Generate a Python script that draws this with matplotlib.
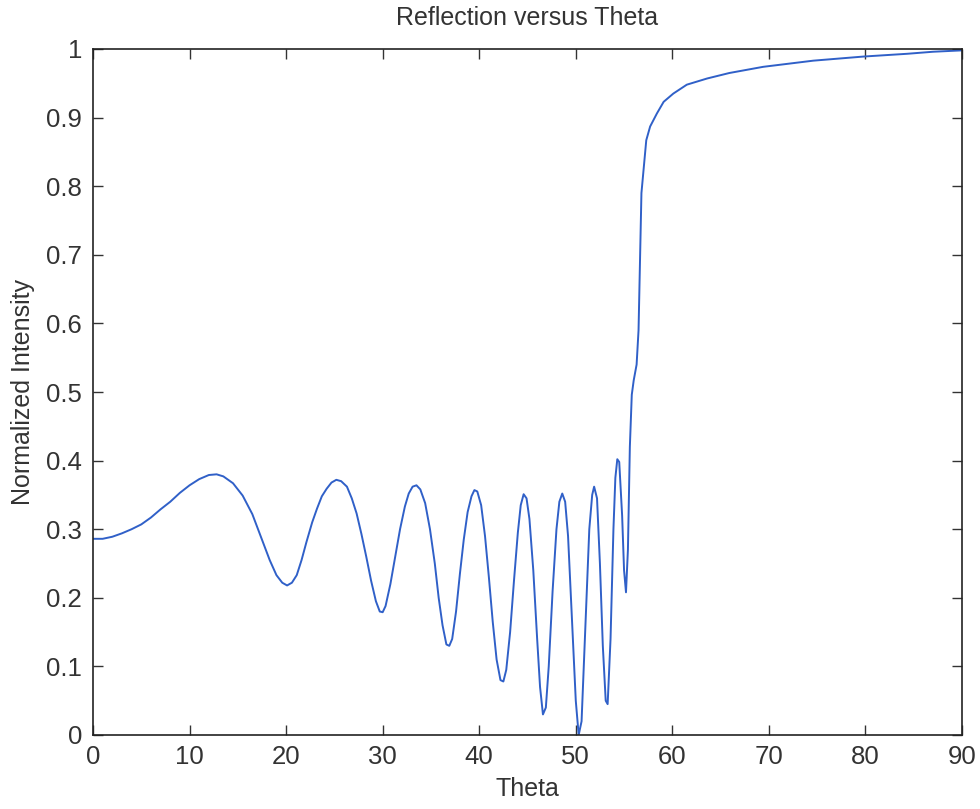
import matplotlib
matplotlib.use("Agg")
import matplotlib.pyplot as plt

theta = [0, 1, 2, 3, 4, 5, 6, 7, 8, 9, 10, 11, 12, 12.8, 13.5, 14.5, 15.5, 16.5, 17.5,
         18.3, 19.0, 19.6, 20.1, 20.6, 21.1, 21.6, 22.1, 22.7, 23.2, 23.7, 24.2, 24.7,
         25.2, 25.7, 26.3, 26.8, 27.3, 27.8, 28.3, 28.8, 29.3, 29.7, 30.0, 30.3, 30.8,
         31.3, 31.8, 32.3, 32.7, 33.1, 33.5, 33.9, 34.4, 34.9, 35.4, 35.8, 36.2, 36.6,
         36.9, 37.2, 37.6, 38.0, 38.4, 38.8, 39.2, 39.5, 39.8, 40.2, 40.6, 41.0, 41.4,
         41.8, 42.2, 42.5, 42.8, 43.2, 43.6, 44.0, 44.3, 44.6, 44.9, 45.2, 45.6, 46.0,
         46.3, 46.6, 46.9, 47.2, 47.6, 48.0, 48.3, 48.6, 48.9, 49.2, 49.6, 50.0, 50.3,
         50.6, 51.0, 51.4, 51.7, 51.9, 52.2, 52.5, 52.8, 53.1, 53.3, 53.6, 53.9, 54.1,
         54.3, 54.5, 54.8, 55.0, 55.2, 55.4, 55.6, 55.8, 56.0, 56.3, 56.5, 56.65, 56.8,
         57.0, 57.3, 57.7, 58.4, 59.1, 60.1, 61.5, 63.6, 65.9, 69.4, 74.6, 79.8, 84.3,
         87.0, 90.0]

intensity = [0.286, 0.286, 0.289, 0.294, 0.300, 0.307, 0.317, 0.329, 0.340, 0.353,
             0.364, 0.373, 0.379, 0.380, 0.377, 0.367, 0.349, 0.322, 0.285,
             0.255, 0.233, 0.222, 0.218, 0.222, 0.233, 0.255, 0.281, 0.310, 0.330,
             0.348, 0.359, 0.368, 0.372, 0.370, 0.362, 0.345, 0.323, 0.293, 0.260,
             0.225, 0.195, 0.180, 0.179, 0.188, 0.220, 0.260, 0.300, 0.333, 0.352,
             0.362, 0.364, 0.358, 0.338, 0.300, 0.250, 0.200, 0.160, 0.132, 0.130,
             0.140, 0.180, 0.235, 0.285, 0.325, 0.348, 0.357, 0.355, 0.335, 0.290,
             0.230, 0.165, 0.110, 0.080, 0.078, 0.095, 0.150, 0.225, 0.295, 0.335,
             0.351, 0.345, 0.315, 0.240, 0.140, 0.070, 0.030, 0.040, 0.100, 0.210,
             0.300, 0.340, 0.352, 0.340, 0.290, 0.170, 0.050, 0.000, 0.020, 0.160,
             0.300, 0.350, 0.362, 0.345, 0.250, 0.130, 0.050, 0.045, 0.140, 0.300,
             0.375, 0.402, 0.398, 0.320, 0.240, 0.208, 0.270, 0.420, 0.496, 0.517,
             0.540, 0.590, 0.690, 0.790, 0.821, 0.867, 0.887, 0.906, 0.923, 0.935,
             0.948, 0.957, 0.965, 0.974, 0.983, 0.989, 0.993, 0.996, 0.998]

xticks = [0, 10, 20, 30, 40, 50, 60, 70, 80, 90]
yticks = [0, 0.1, 0.2, 0.3, 0.4, 0.5, 0.6, 0.7, 0.8, 0.9, 1]
ytick_labels = ["0", "0.1", "0.2", "0.3", "0.4", "0.5", "0.6", "0.7", "0.8", "0.9", "1"]

plt.rcParams['font.family'] = ['Liberation Sans', 'DejaVu Sans']

fig = plt.figure(figsize=(9.8, 8.09), dpi=100)
ax = fig.add_axes([93 / 980, 74 / 809, 869 / 980, 686 / 809])

ax.plot(theta, intensity, color="#3060c8", linewidth=1.4)

ax.set_xlim(0, 90)
ax.set_ylim(0, 1)
ax.set_xticks(xticks)
ax.set_xticklabels([str(t) for t in xticks])
ax.set_yticks(yticks)
ax.set_yticklabels(ytick_labels)

ax.tick_params(direction="in", length=7, width=1.0, top=True, right=True,
               labelsize=18.5, colors="#333333")
ax.tick_params(axis="x", pad=7)
ax.tick_params(axis="y", pad=8)
for s in ax.spines.values():
    s.set_linewidth(1.2)
    s.set_color("#222222")

ax.set_title("Reflection versus Theta", fontsize=18, pad=17, color="#333333")
ax.set_xlabel("Theta", fontsize=18, labelpad=6, color="#333333")
ax.set_ylabel("Normalized Intensity", fontsize=18, labelpad=8, color="#333333")

fig.savefig("out.png", dpi=100)
